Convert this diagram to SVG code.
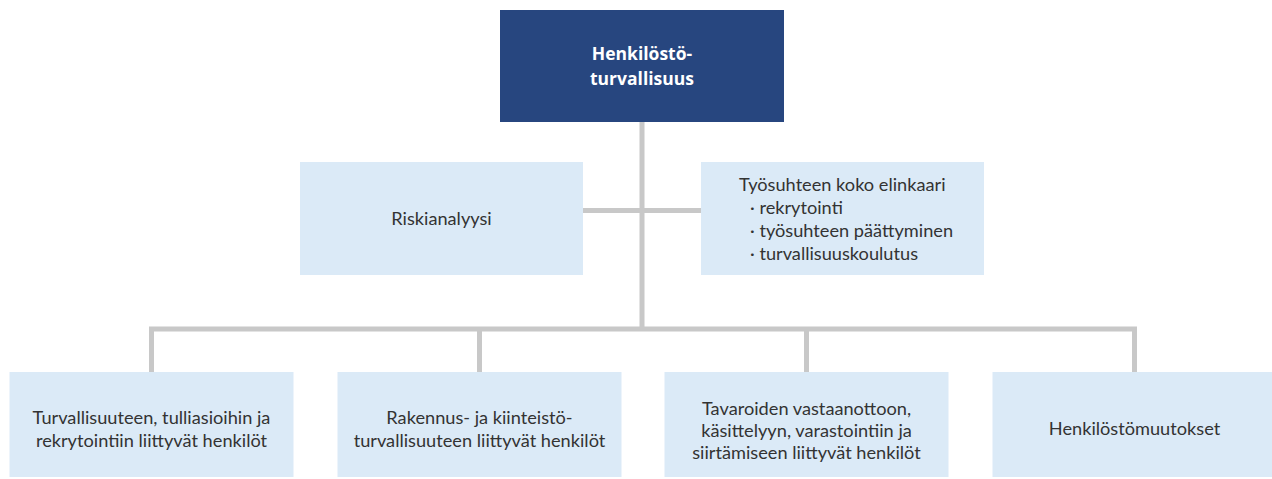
<svg xmlns="http://www.w3.org/2000/svg" width="1272" height="479" viewBox="0 0 1272 479">
<style>
.box{fill:#dbeaf7}
.top{fill:#27467f}
.t{font-family:Lato,"Liberation Sans",sans-serif;font-size:18.2px;fill:#333333}
.c{text-anchor:middle}
.w{font-family:"Open Sans","Liberation Sans",sans-serif;font-size:17.5px;font-weight:bold;fill:#ffffff;text-anchor:middle}
.ln{stroke:#c8c8c8;stroke-width:5;fill:none}
</style>
<rect width="1272" height="479" fill="#ffffff"/>
<g id="connectors">
<path class="ln" d="M642,122 V329"/>
<path class="ln" d="M583,210.5 H701"/>
<path class="ln" d="M151.5,372 V329 H1134.5 V372"/>
<path class="ln" d="M479.5,329 V372"/>
<path class="ln" d="M806.5,329 V372"/>
</g>
<g id="n-top">
<rect class="top" x="500" y="10" width="284" height="112"/>
<text class="w" x="642" y="60">Henkilöstö-</text>
<text class="w" x="642" y="85">turvallisuus</text>
</g>
<g id="n-riski">
<rect class="box" x="300" y="162" width="283" height="113"/>
<text class="t c" x="441.5" y="225">Riskianalyysi</text>
</g>
<g id="n-elinkaari">
<rect class="box" x="701" y="162" width="283" height="113"/>
<text class="t" x="739" y="191">Työsuhteen koko elinkaari</text>
<text class="t" x="750" y="214">· rekrytointi</text>
<text class="t" x="750" y="237">· työsuhteen päättyminen</text>
<text class="t" x="750" y="260">· turvallisuuskoulutus</text>
</g>
<g id="n-b1">
<rect class="box" x="9.5" y="372" width="284" height="105"/>
<text class="t c" x="151.5" y="424">Turvallisuuteen, tulliasioihin ja</text>
<text class="t c" x="151.5" y="447">rekrytointiin liittyvät henkilöt</text>
</g>
<g id="n-b2">
<rect class="box" x="337.5" y="372" width="284" height="105"/>
<text class="t c" x="479.5" y="424">Rakennus- ja kiinteistö-</text>
<text class="t c" x="479.5" y="447">turvallisuuteen liittyvät henkilöt</text>
</g>
<g id="n-b3">
<rect class="box" x="664.5" y="372" width="284" height="105"/>
<text class="t c" x="806.5" y="415">Tavaroiden vastaanottoon,</text>
<text class="t c" x="806.5" y="437">käsittelyyn, varastointiin ja</text>
<text class="t c" x="806.5" y="459">siirtämiseen liittyvät henkilöt</text>
</g>
<g id="n-b4">
<rect class="box" x="992.5" y="372" width="284" height="105"/>
<text class="t c" x="1134.5" y="435">Henkilöstömuutokset</text>
</g>
</svg>
